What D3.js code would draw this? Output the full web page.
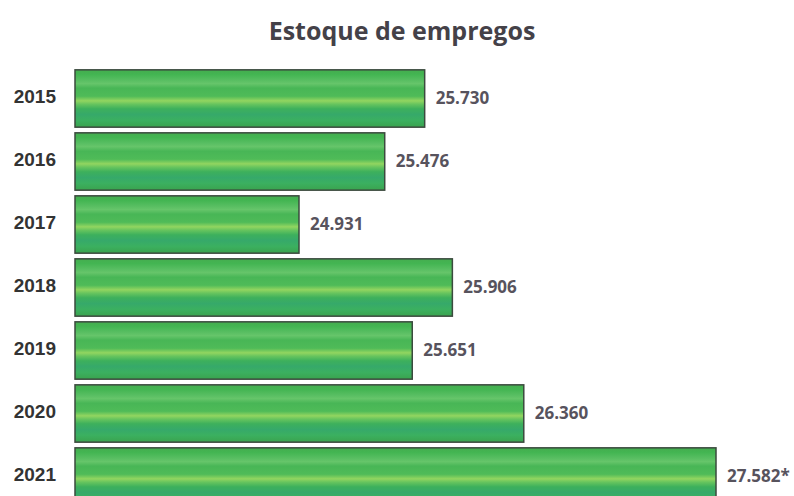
<!DOCTYPE html>
<html>
<head>
<meta charset="utf-8">
<script src="https://cdn.jsdelivr.net/npm/d3@7"></script>
<style>
  body { margin: 0; background: #fff; }
  svg { display: block; }
</style>
</head>
<body>
<svg id="chart" width="794" height="496"></svg>
<script>
var years = ["2015", "2016", "2017", "2018", "2019", "2020", "2021"];
var values = [25730, 25476, 24931, 25906, 25651, 26360, 27582];
var labels = ["25.730", "25.476", "24.931", "25.906", "25.651", "26.360", "27.582*"];

var svg = d3.select("#chart");

// bars start at a truncated baseline, like the original
var x = d3.scaleLinear()
    .domain([23507, 27582])
    .range([75, 716]);

var y = d3.scaleBand()
    .domain(years)
    .range([67, 508])
    .paddingInner(0.09)
    .paddingOuter(0.045);

// striped green fill
var grad = svg.append("defs").append("linearGradient")
    .attr("id", "barFill")
    .attr("x1", 0).attr("y1", 0).attr("x2", 0).attr("y2", 1);
[
    [0, "#45ad4f"], [0.08, "#43b552"], [0.18, "#58be62"], [0.24, "#66c56a"],
    [0.32, "#48b656"], [0.46, "#4fbb58"], [0.54, "#92d560"], [0.6, "#66c45e"],
    [0.68, "#3db05c"], [0.78, "#36a96a"], [0.88, "#3bb060"], [1, "#3aa34e"]
].forEach(function (s) {
    grad.append("stop").attr("offset", s[0]).attr("stop-color", s[1]);
});

svg.append("text")
    .attr("x", 402)
    .attr("y", 40)
    .attr("text-anchor", "middle")
    .style("font-family", "'Open Sans', sans-serif")
    .style("font-weight", "bold")
    .style("font-size", "25px")
    .style("fill", "#444148")
    .text("Estoque de empregos");

var rows = svg.selectAll("g.row")
    .data(years)
    .enter()
    .append("g")
    .attr("class", "row");

rows.append("rect")
    .attr("x", x(23507))
    .attr("y", function (d) { return y(d); })
    .attr("width", function (d, i) { return x(values[i]) - x(23507); })
    .attr("height", y.bandwidth())
    .style("fill", "url(#barFill)")
    .style("stroke", "#3b4a3e")
    .style("stroke-width", 1.5);

rows.append("text")
    .attr("x", 56)
    .attr("y", function (d) { return y(d) + y.bandwidth() / 2 - 2; })
    .attr("dy", "0.35em")
    .attr("text-anchor", "end")
    .style("font-family", "'Liberation Sans', Arial, sans-serif")
    .style("font-weight", "bold")
    .style("font-size", "19px")
    .style("fill", "#333")
    .text(function (d) { return d; });

rows.append("text")
    .attr("x", function (d, i) { return x(values[i]) + 11; })
    .attr("y", function (d) { return y(d) + y.bandwidth() / 2; })
    .attr("dy", "0.35em")
    .style("font-family", "'Open Sans', sans-serif")
    .style("font-weight", "bold")
    .style("font-size", "17px")
    .style("fill", "#57535d")
    .text(function (d, i) { return labels[i]; });
</script>
</body>
</html>
